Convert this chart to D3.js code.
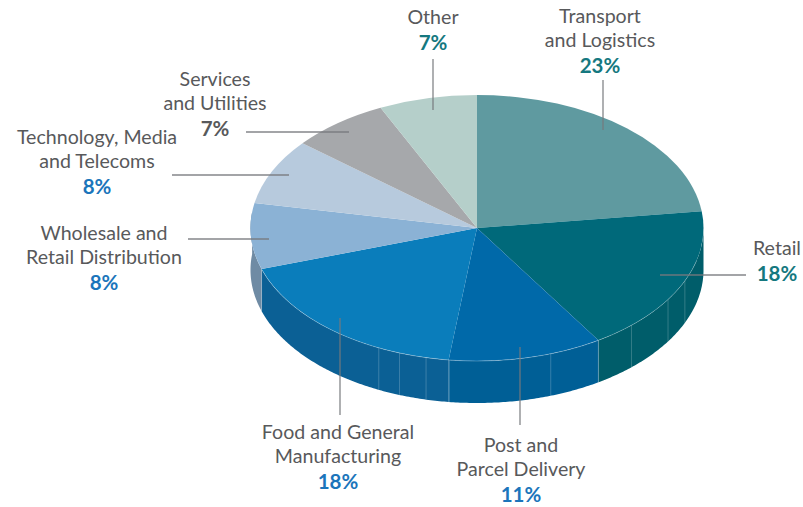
<!DOCTYPE html>
<html>
<head>
<meta charset="utf-8">
<script src="https://cdn.jsdelivr.net/npm/d3@7"></script>
<style>
html, body { margin: 0; padding: 0; background: #fff; }
svg { display: block; }
text { font-family: "Lato", sans-serif; text-anchor: middle; }
</style>
</head>
<body>
<svg id="chart" width="803" height="507"></svg>
<script>
// Sector shares, clockwise from twelve o'clock
const sectors = ["Transport and Logistics", "Retail", "Post and Parcel Delivery",
  "Food and General Manufacturing", "Wholesale and Retail Distribution",
  "Technology, Media and Telecoms", "Services and Utilities", "Other"];
const shares = [23, 18, 11, 18, 8, 8, 7, 7];

const topColours = ["#5f9aa0", "#00697a", "#0069a9", "#0a7dbb", "#8bb2d5", "#b7cadd", "#a6a8ab", "#b5cfca"];
const wallColours = ["#4f8489", "#005d6a", "#005f96", "#0b6095", "#6f8ba4", "#8ea3b6", "#85878a", "#94aaa6"];

// Wrapped label text and its colour
const labelLines = [
  ["Transport", "and Logistics"], ["Retail"], ["Post and", "Parcel Delivery"],
  ["Food and General", "Manufacturing"], ["Wholesale and", "Retail Distribution"],
  ["Technology, Media", "and Telecoms"], ["Services", "and Utilities"], ["Other"]
];
const valueColours = ["#15787f", "#15787f", "#1b75bb", "#1b75bb", "#1b75bb", "#1b75bb", "#58595b", "#15787f"];

// Label anchors and leader rules
const labelAnchors = [[600, 23], [777, 255], [521, 452], [338, 439], [104, 240], [97, 144], [215, 86], [433, 24]];
const leaders = [
  [603, 80, 603, 130], [660, 275, 746, 275], [520, 347, 520, 425], [340, 318, 340, 415],
  [188, 239, 269, 239], [172, 175, 289, 175], [246, 132, 349, 132], [433, 59, 433, 110]
];

// Seams on the rim, as clockwise angles in degrees
const seamAngles = [113.4, 122.5, 137, 147.6, 161, 187, 193, 200, 205.7, 252];

const cx = 477, cy = 228, rx = 226.5, ry = 133, depth = 42;
const lineStep = 24.2;
const valueGap = 1.6;
const tau = 2 * Math.PI;

const svg = d3.select("#chart");
const pie = d3.pie().sort(null).value(d => d)(shares);

const xAt = a => cx + rx * Math.sin(a);
const yAt = a => cy - ry * Math.cos(a);

// Outer wall: only the front half of the ellipse is visible
const wall = d3.area()
  .x(a => xAt(a))
  .y0(a => yAt(a))
  .y1(a => yAt(a) + depth);

const wallGroup = svg.append("g");
pie.forEach((d, i) => {
  const a0 = Math.max(d.startAngle, tau / 4);
  const a1 = Math.min(d.endAngle, tau * 3 / 4 + 0.12);
  if (a1 <= a0) return;
  const steps = d3.range(a0, a1, 0.01).concat([a1]);
  wallGroup.append("path").attr("d", wall(steps)).attr("fill", wallColours[i]);
});

wallGroup.selectAll("line").data(seamAngles).join("line")
  .attr("x1", d => xAt(d * Math.PI / 180))
  .attr("x2", d => xAt(d * Math.PI / 180))
  .attr("y1", d => yAt(d * Math.PI / 180))
  .attr("y2", d => yAt(d * Math.PI / 180) + depth)
  .attr("stroke", "#fff")
  .attr("stroke-opacity", 0.2)
  .attr("stroke-width", 1);

// Top face: a flat pie squashed into an ellipse
const arc = d3.arc().innerRadius(0).outerRadius(rx);
const face = svg.append("g")
  .attr("transform", `translate(${cx},${cy}) scale(1,${ry / rx})`);
face.selectAll("path").data(pie).join("path")
  .attr("d", arc)
  .attr("fill", (d, i) => topColours[i]);

// Pale highlight along the front rim of the top face
const rimAngles = d3.range(tau * 0.29, tau * 0.70, 0.01);
svg.append("path")
  .attr("d", d3.line().x(a => xAt(a)).y(a => yAt(a))(rimAngles))
  .attr("fill", "none")
  .attr("stroke", "#fff")
  .attr("stroke-opacity", 0.3)
  .attr("stroke-width", 0.8);

// Leader rules
svg.append("g").selectAll("line").data(leaders).join("line")
  .attr("x1", d => d[0]).attr("y1", d => d[1])
  .attr("x2", d => d[2]).attr("y2", d => d[3])
  .attr("stroke", "#77797c")
  .attr("stroke-opacity", 0.9)
  .attr("stroke-width", 1.3);

// Labels: name lines in grey, share below in its own colour
const labels = svg.append("g");
sectors.forEach((name, i) => {
  const [x, y0] = labelAnchors[i];
  const t = labels.append("text").attr("x", x).attr("y", y0);
  labelLines[i].forEach((line, j) => {
    t.append("tspan").attr("x", x).attr("y", y0 + j * lineStep)
      .attr("font-size", 19.6).attr("fill", "#58595b").text(line);
  });
  t.append("tspan").attr("x", x).attr("y", y0 + labelLines[i].length * lineStep + valueGap)
    .attr("font-size", 20.5).attr("font-weight", 700)
    .attr("fill", valueColours[i]).text(shares[i] + "%");
});
</script>
</body>
</html>
